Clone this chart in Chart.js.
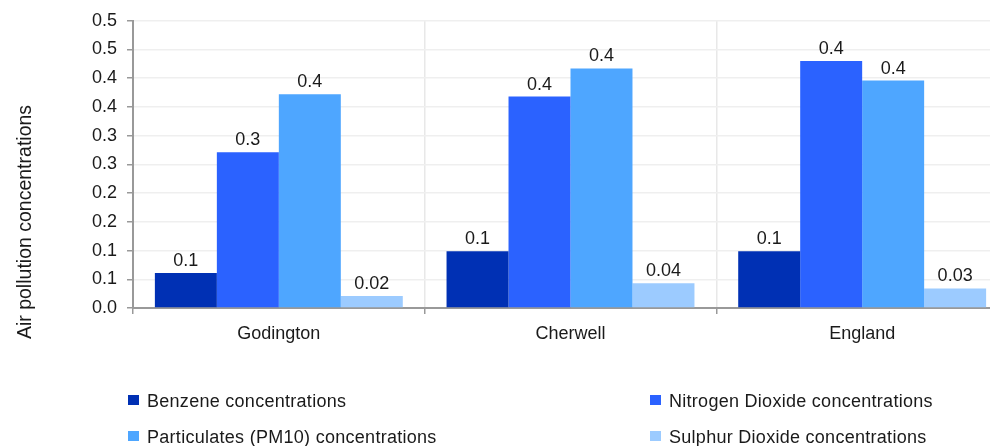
<!DOCTYPE html>
<html>
<head>
<meta charset="utf-8">
<script src="https://cdn.jsdelivr.net/npm/chart.js@4.4.1/dist/chart.umd.min.js"></script>
<style>
  html, body { margin: 0; padding: 0; background: #fff; overflow: hidden; width: 990px; height: 446px; }
  #wrap { position: absolute; left: 0; top: 0; width: 1012px; height: 446px; }
  #legend { position: absolute; left: 0; top: 0; width: 990px; height: 446px; pointer-events: none;
            font-family: "Liberation Sans", Arial, sans-serif; font-size: 18px; color: #1a1a1a; letter-spacing: 0.28px; }
  .item { position: absolute; white-space: nowrap; line-height: 20px; height: 20px; }
  .sw { position: absolute; width: 11px; height: 10px; left: 0; top: 4px; }
  .lt { position: absolute; left: 19px; top: 0; }
</style>
</head>
<body>
<div id="wrap"><canvas id="c" width="1012" height="446"></canvas></div>
<div id="legend"></div>
<script>
const categories = ["Godington", "Cherwell", "England"];
const seriesNames = ["Benzene concentrations", "Nitrogen Dioxide concentrations", "Particulates (PM10) concentrations", "Sulphur Dioxide concentrations"];
const benzene = [0.061, 0.099, 0.099];
const nitrogenDioxide = [0.271, 0.368, 0.430];
const particulates = [0.372, 0.417, 0.396];
const sulphurDioxide = [0.021, 0.043, 0.034];
const colors = ["#0030b4", "#2b62ff", "#4ea6ff", "#9ccbff"];
const yTitle = "Air pollution concentrations";

const FONT = '"Liberation Sans", Arial, sans-serif';

function fmt(v) { return v < 0.05 ? v.toFixed(2) : v.toFixed(1); }
function tickFmt(v) { return (Math.round(Number(v) * 10 + 1e-9) / 10).toFixed(1); }

const valueLabels = {
  id: 'valueLabels',
  afterDatasetsDraw(chart) {
    const ctx = chart.ctx;
    ctx.save();
    ctx.font = '18px ' + FONT;
    ctx.fillStyle = '#1a1a1a';
    ctx.textAlign = 'center';
    ctx.textBaseline = 'alphabetic';
    chart.data.datasets.forEach((ds, i) => {
      chart.getDatasetMeta(i).data.forEach((bar, j) => {
        ctx.fillText(fmt(ds.data[j]), bar.x, bar.y - 7);
      });
    });
    ctx.restore();
  }
};

const yTitlePlugin = {
  id: 'yTitlePlugin',
  afterDraw(chart) {
    const ctx = chart.ctx;
    ctx.save();
    ctx.translate(26, 222);
    ctx.rotate(-Math.PI / 2);
    ctx.font = '19.5px ' + FONT;
    ctx.fillStyle = '#1a1a1a';
    ctx.textAlign = 'center';
    ctx.textBaseline = 'middle';
    ctx.fillText(yTitle, 0, 0);
    ctx.restore();
  }
};

const chart = new Chart(document.getElementById('c'), {
  type: 'bar',
  data: {
    labels: categories,
    datasets: [
      { label: seriesNames[0], data: benzene, backgroundColor: colors[0] },
      { label: seriesNames[1], data: nitrogenDioxide, backgroundColor: colors[1] },
      { label: seriesNames[2], data: particulates, backgroundColor: colors[2] },
      { label: seriesNames[3], data: sulphurDioxide, backgroundColor: colors[3] }
    ]
  },
  options: {
    responsive: false,
    animation: false,
    layout: { padding: { top: 20, right: 4, bottom: 98, left: 0 } },
    datasets: { bar: { categoryPercentage: 0.85, barPercentage: 1.0 } },
    plugins: { legend: { display: false }, tooltip: { enabled: false } },
    scales: {
      x: {
        grid: { color: '#e8e8e8', lineWidth: 1.5, tickLength: 6, tickColor: '#999', offset: true },
        border: { color: '#999', width: 2 },
        ticks: { color: '#1a1a1a', font: { family: FONT, size: 18 }, padding: 9 },
        afterFit(s) { s.height = 40; }
      },
      y: {
        min: 0, max: 0.5,
        grid: { color: '#efefef', lineWidth: 1.5, tickLength: 6, tickColor: '#999' },
        border: { color: '#999', width: 2 },
        ticks: { stepSize: 0.05, color: '#1a1a1a', font: { family: FONT, size: 18 }, padding: 10,
                 callback: v => tickFmt(v) },
        afterFit(s) { s.width = 133; }
      }
    }
  },
  plugins: [valueLabels, yTitlePlugin]
});

// HTML legend built from chart datasets
const legendPos = [[128, 391], [650, 391], [128, 427], [650, 427]];
const lg = document.getElementById('legend');
chart.data.datasets.forEach((ds, i) => {
  const it = document.createElement('div');
  it.className = 'item';
  it.style.left = legendPos[i][0] + 'px';
  it.style.top = legendPos[i][1] + 'px';
  it.innerHTML = '<span class="sw" style="background:' + ds.backgroundColor + '"></span><span class="lt"></span>';
  it.querySelector('.lt').textContent = ds.label;
  lg.appendChild(it);
});
</script>
</body>
</html>
